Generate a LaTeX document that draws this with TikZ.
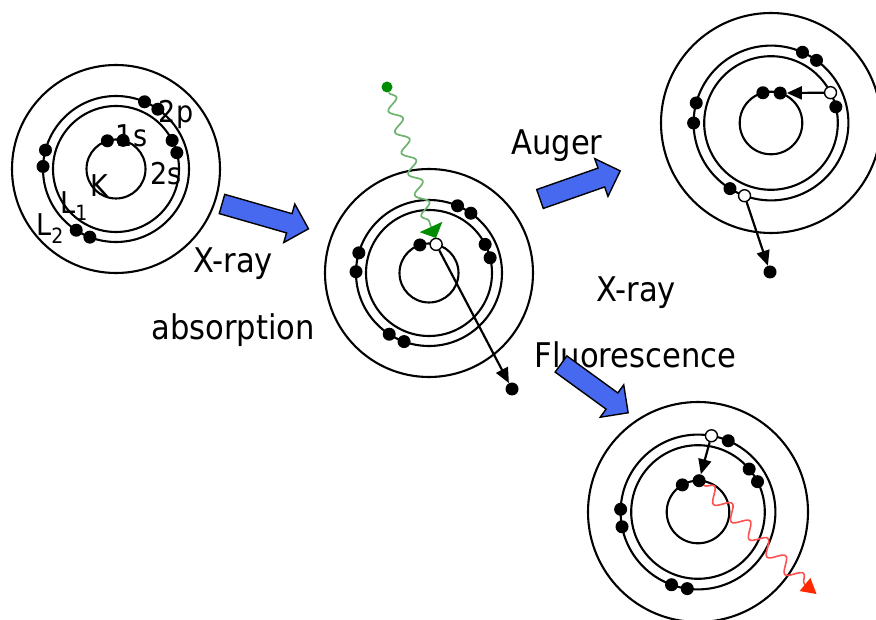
\documentclass[tikz,border=0pt]{standalone}
\usepackage{fontspec}
\setmainfont{DejaVu Sans Condensed}
\usetikzlibrary{arrows.meta,calc,decorations.pathmorphing}

\definecolor{arrowblue}{RGB}{70,105,240}
\definecolor{wavegreen}{RGB}{110,180,110}
\definecolor{dotgreen}{RGB}{0,140,0}
\definecolor{wavered}{RGB}{255,80,80}
\definecolor{tipred}{RGB}{255,40,0}

\tikzset{
  shell/.style={line width=2.1pt},
  electron/.style={circle, fill=black, inner sep=0pt, minimum size=13pt},
  hole/.style={circle, draw=black, fill=white, line width=1.4pt, inner sep=0pt, minimum size=12pt},
  jump/.style={line width=2.2pt, -{Triangle[length=15pt,width=13pt]}},
  bigtext/.style={font=\fontsize{34}{40}\selectfont, inner sep=0pt, anchor=base},
  lbl/.style={font=\fontsize{30}{36}\selectfont, inner sep=0pt, anchor=base},
  blockarrow/.pic={\draw[line width=1.4pt, fill=arrowblue]
    (0,-10) -- (#1-20,-10) -- (#1-20,-20) -- (#1,0) -- (#1-20,20)
    -- (#1-20,10) -- (0,10) -- cycle;},
}

\begin{document}
\begin{tikzpicture}[x=1pt,y=1pt]
  \useasboundingbox (0,0) rectangle (876,619);

  % atom centres
  \coordinate (a1) at (116,450);
  \coordinate (a2) at (429,346);
  \coordinate (a3) at (771,496);
  \coordinate (a4) at (698,107);

  % shells K, L1, L2 and the outer one
  \foreach \c in {a1,a2}
    \foreach \r in {29.5,63,73,104} \draw[shell] (\c) circle (\r);
  \foreach \c in {a3,a4}
    \foreach \r in {31.3,66.8,77.4,110} \draw[shell] (\c) circle (\r);

  % incoming photon
  \node[circle, fill=dotgreen, inner sep=0pt, minimum size=11pt] (gsrc) at (387,532) {};
  \coordinate (gend) at (431,392);
  \coordinate (gtip) at (436,381);
  \draw[wavegreen, line width=1.7pt, decorate,
    decoration={snake, amplitude=6pt, segment length=22pt}] (gsrc) -- (gend);
  \fill[dotgreen] ($(gend)!12.5pt!90:(gtip)$) -- (gtip)
    -- ($(gend)!12.5pt!-90:(gtip)$) -- cycle;

  % labels
  \node[bigtext] (xabs) at (233,346) {X-ray};
  \node[bigtext] (absorb) at (233,279) {absorption};
  \node[bigtext] (auger) at (557,464) {Auger};
  \node[bigtext] (xfluo) at (636,317) {X-ray};
  \node[bigtext] (fluo) at (635.5,251) {Fluorescence};

  \node[lbl] (t2p) at (176,496) {2p};
  \node[lbl] (t1s) at (131.5,472) {1s};
  \node[lbl] (t2s) at (166,434) {2s};
  \node[lbl] (tK) at (99.5,422) {K};
  \node[lbl] (tL1) at (74,405) {L\textsubscript{1}};
  \node[lbl] (tL2) at (50,383) {L\textsubscript{2}};

  % big arrows
  \pic[rotate=-16] at (222,415) {blockarrow=90};
  \pic[rotate=19.3] at (540,420) {blockarrow=85};
  \pic[rotate=-36] at (561,255) {blockarrow=83};

  % ground state
  \foreach \a/\r [count=\i] in {107/29.5,76/29.5,27/63,15/63,67/73,55/73,
      165/73,178/73,237/73,249/73}
    \node[electron] (a1e\i) at ($(a1)+(\a:\r)$) {};

  % K hole after absorption
  \foreach \a/\r [count=\i] in {108/29.5,27/63,14/63,67/73,55/73,
      164/73,179/73,237/73,250/73}
    \node[electron] (a2e\i) at ($(a2)+(\a:\r)$) {};
  \node[hole] (a2h) at ($(a2)+(76:29.5)$) {};
  \node[electron] (a2out) at (512,230) {};
  \draw[jump] (a2h) -- (a2out);

  % Auger
  \foreach \a/\r [count=\i] in {105/31.3,14/66.8,66/77.4,54/77.4,
      165/77.4,180/77.4,238/77.4}
    \node[electron] (a3e\i) at ($(a3)+(\a:\r)$) {};
  \node[electron] (a3k) at ($(a3)+(73:31.3)$) {};
  \node[hole] (a3h1) at ($(a3)+(27:66.8)$) {};
  \node[hole] (a3h2) at ($(a3)+(250:77.4)$) {};
  \node[electron] (a3out) at (770,347) {};
  \draw[jump] (a3h1) -- (a3k);
  \draw[jump] (a3h2) -- (a3out);

  % fluorescence
  \coordinate (rend) at (805,34.5);
  \coordinate (rtip) at (816.5,25);
  \node[electron] (a4k) at ($(a4)+(88:31.3)$) {};
  \draw[wavered, line width=1.6pt, decorate,
    decoration={snake, amplitude=7pt, segment length=25pt}] (a4k) -- (rend);
  \fill[tipred] ($(rend)!8.5pt!90:(rtip)$) -- (rtip)
    -- ($(rend)!8.5pt!-90:(rtip)$) -- cycle;
  \foreach \a/\r [count=\i] in {120/31.3,40/66.8,27/66.8,67/77.4,
      178/77.4,191/77.4,250/77.4,262/77.4}
    \node[electron] (a4e\i) at ($(a4)+(\a:\r)$) {};
  \node[hole] (a4h) at ($(a4)+(80:77.4)$) {};
  \draw[jump] (a4h) -- (a4k);
\end{tikzpicture}
\end{document}
